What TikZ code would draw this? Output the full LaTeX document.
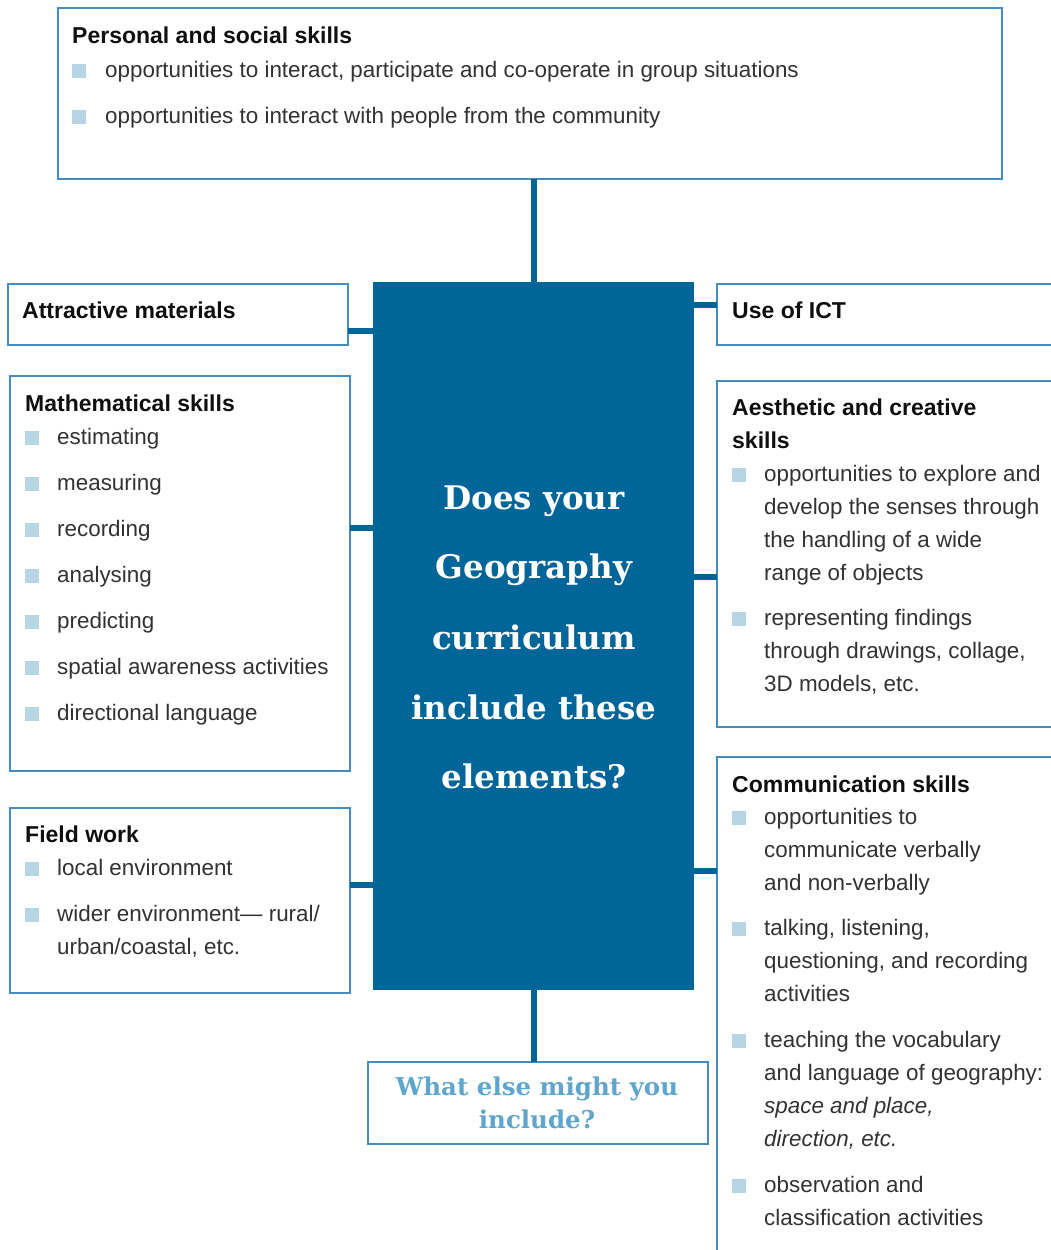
\documentclass[tikz,border=0pt]{standalone}
\usepackage{fontspec}
\setmainfont{Liberation Sans}
\newfontfamily\slab{DejaVu Serif}
\definecolor{mainblue}{RGB}{0,101,153}
\definecolor{bordc}{RGB}{70,140,190}
\definecolor{sqc}{RGB}{183,214,229}
\definecolor{bodyc}{RGB}{50,50,50}
\definecolor{titlec}{RGB}{15,15,15}
\definecolor{askc}{RGB}{95,165,205}
\newcommand\mlines[1]{\vtop{\baselineskip=33pt\lineskiplimit=-100pt\halign{##\hfil\cr#1\crcr}}}
\tikzset{
  box/.style={draw=bordc, line width=2pt, inner sep=0pt, outer sep=0pt, anchor=north west, fill=white},
  conn/.style={draw=mainblue, line width=6pt},
  ttl/.style={anchor=base west, inner sep=0pt, font=\fontsize{23}{33}\selectfont\bfseries, text=titlec},
  txt/.style={anchor=base west, inner sep=0pt, font=\fontsize{22.4}{33}\selectfont, text=bodyc},
  sq/.style={fill=sqc, inner sep=0pt, minimum size=14pt, anchor=south west},
  big/.style={anchor=base, inner sep=0pt, font=\fontsize{32.5}{36}\selectfont\slab\bfseries, text=white},
  ask/.style={anchor=base, inner sep=0pt, font=\fontsize{24.5}{33}\selectfont\slab\bfseries, text=askc}
}
\begin{document}
\begin{tikzpicture}[x=1pt,y=-1pt]
\clip (0,0) rectangle (1051,1250);
\fill[white] (0,0) rectangle (1051,1250);
% boxes
\node[box, minimum width=944pt, minimum height=171pt] (personal) at (58,8) {};
\node[box, draw=none, fill=mainblue, minimum width=321pt, minimum height=708pt] (center) at (373,282) {};
\node[box, minimum width=340pt, minimum height=61pt] (attr) at (8,284) {};
\node[box, minimum width=400pt, minimum height=61pt] (ict) at (717,284) {};
\node[box, minimum width=340pt, minimum height=395pt] (math) at (10,376) {};
\node[box, minimum width=400pt, minimum height=346pt] (aes) at (717,381) {};
\node[box, minimum width=340pt, minimum height=185pt] (field) at (10,808) {};
\node[box, minimum width=400pt, minimum height=520pt] (comm) at (717,757) {};
\node[box, minimum width=340pt, minimum height=82pt] (ask) at (368,1062) {};
% connector levels
\coordinate (yattr) at (0,331);
\coordinate (ymath) at (0,528);
\coordinate (yfield) at (0,885);
\coordinate (yict) at (0,305);
\coordinate (yaes) at (0,577);
\coordinate (ycomm) at (0,871);
\draw[conn] (center.north) -- (center.north |- personal.south);
\draw[conn] (center.south) -- (center.south |- ask.north);
\draw[conn] (attr.east |- yattr) -- (center.west |- yattr);
\draw[conn] (math.east |- ymath) -- (center.west |- ymath);
\draw[conn] (field.east |- yfield) -- (center.west |- yfield);
\draw[conn] (center.east |- yict) -- (ict.west |- yict);
\draw[conn] (center.east |- yaes) -- (aes.west |- yaes);
\draw[conn] (center.east |- ycomm) -- (comm.west |- ycomm);
% personal
\node[ttl] (pt) at (72,43) {Personal and social skills};
\node[sq] (ps1) at (72,78) {};
\node[txt] (p1) at (105,77) {opportunities to interact, participate and co-operate in group situations};
\node[sq] (ps2) at (72,124) {};
\node[txt] (p2) at (105,123) {opportunities to interact with people from the community};
% attractive / ICT
\node[ttl] (at) at (22,318) {Attractive materials};
\node[ttl] (it) at (732,318) {Use of ICT};
% math
\node[ttl] (mt) at (25,411) {Mathematical skills};
\foreach \t [count=\i from 0] in {estimating,measuring,recording,analysing,predicting,spatial awareness activities,directional language}{
  \node[sq] (ms\i) at (25,{445+46*\i}) {};
  \node[txt] (m\i) at (57,{444+46*\i}) {\t};
}
% field
\node[ttl] (ft) at (25,842) {Field work};
\node[sq] (fs1) at (25,876) {};
\node[txt] (f1) at (57,875) {local environment};
\node[sq] (fs2) at (25,922) {};
\node[txt] (f2) at (57,921) {\mlines{wider environment— rural/\cr urban/coastal, etc.}};
% aesthetic
\node[ttl] (aet) at (732,415) {\mlines{Aesthetic and creative\cr skills}};
\node[sq] (as1) at (732,482) {};
\node[txt] (a1) at (764,481) {\mlines{opportunities to explore and\cr develop the senses through\cr the handling of a wide\cr range of objects}};
\node[sq] (as2) at (732,626) {};
\node[txt] (a2) at (764,625) {\mlines{representing findings\cr through drawings, collage,\cr 3D models, etc.}};
% communication
\node[ttl] (ct) at (732,792) {Communication skills};
\node[sq] (cs1) at (732,825) {};
\node[txt] (c1) at (764,824) {\mlines{opportunities to\cr communicate verbally\cr and non-verbally}};
\node[sq] (cs2) at (732,936) {};
\node[txt] (c2) at (764,935) {\mlines{talking, listening,\cr questioning, and recording\cr activities}};
\node[sq] (cs3) at (732,1048) {};
\node[txt] (c3) at (764,1047) {\mlines{teaching the vocabulary\cr and language of geography:\cr \itshape space and place,\cr \itshape direction, etc.}};
\node[sq] (cs4) at (732,1193) {};
\node[txt] (c4) at (764,1192) {\mlines{observation and\cr classification activities}};
% center text
\node[big] (q1) at (534,509) {Does your};
\node[big] (q2) at (534,578) {Geography};
\node[big] (q3) at (534,649) {curriculum};
\node[big] (q4) at (534,719) {include these};
\node[big] (q5) at (534,788) {elements?};
% ask text
\node[ask] (w1) at (537,1095) {What else might you};
\node[ask] (w2) at (537,1128) {include?};
\end{tikzpicture}
\end{document}
